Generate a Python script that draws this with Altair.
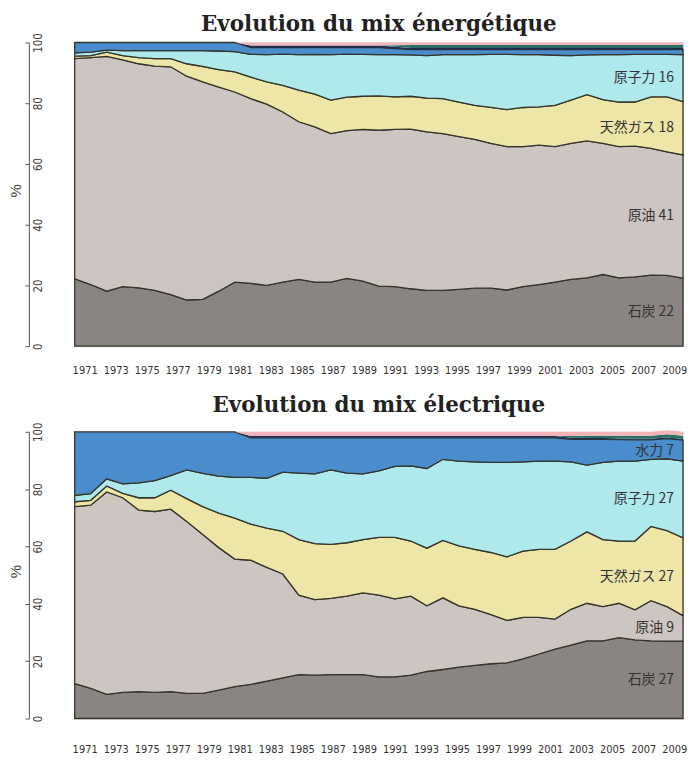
import altair as alt
import pandas as pd

years = list(range(1971, 2010))

names = ["石炭", "原油", "天然ガス", "原子力", "水力", "地熱", "新エネルギー", "その他"]
colors = ["#8a8582", "#cdc5c1", "#eee6a6", "#aee9ec", "#4a8dcd", "#1f2d52", "#2c6f66", "#f1b5b8"]

# ---- Primary energy mix (%), 1971-2009 ----
e_coal = [22.2, 20.3, 18.1, 19.6, 19.2, 18.4, 17.0, 15.2, 15.4, 18.1,
          21.1, 20.7, 20.0, 21.1, 22.0, 21.1, 21.1, 22.3, 21.4, 19.8,
          19.6, 18.9, 18.4, 18.4, 18.7, 19.1, 19.1, 18.5, 19.6, 20.3,
          21.1, 22.0, 22.5, 23.6, 22.5, 22.8, 23.4, 23.3, 22.4]
e_oil = [72.5, 74.7, 77.3, 74.7, 73.8, 73.8, 75.0, 73.7, 71.6, 67.2,
         62.6, 60.8, 59.7, 56.0, 51.9, 51.1, 48.9, 48.7, 50.0, 51.3,
         51.8, 52.6, 52.2, 51.6, 50.3, 49.0, 47.7, 47.2, 46.1, 45.9,
         44.6, 44.8, 45.1, 43.2, 43.2, 43.1, 41.7, 40.7, 40.6]
e_gas = [0.8, 0.7, 1.4, 1.4, 2.0, 2.5, 2.7, 4.1, 5.1, 5.8,
         6.6, 7.1, 7.3, 8.8, 10.4, 10.8, 11.0, 11.0, 10.9, 11.3,
         10.7, 10.8, 11.1, 11.5, 11.4, 11.2, 11.8, 12.2, 12.9, 12.6,
         13.6, 14.2, 15.2, 14.4, 14.7, 14.5, 17.0, 18.1, 17.5]
e_nuclear = [1.1, 1.1, 0.7, 1.6, 2.3, 2.6, 2.6, 4.3, 5.2, 6.1,
             6.7, 7.5, 9.0, 10.3, 11.7, 13.1, 15.0, 14.2, 13.8, 13.6,
             13.9, 13.6, 14.0, 14.5, 15.6, 16.7, 17.5, 18.2, 17.4, 17.2,
             16.5, 14.7, 13.1, 14.8, 15.6, 15.7, 14.0, 14.0, 15.5]
e_hydro = [3.4, 3.2, 2.5, 2.7, 2.7, 2.7, 2.7, 2.7, 2.7, 2.8,
           3.0, 2.2, 2.3, 2.1, 2.3, 2.2, 2.3, 2.1, 2.2, 2.3,
           2.0, 1.8, 2.0, 1.7, 1.7, 1.7, 1.6, 1.6, 1.7, 1.7,
           1.9, 2.0, 1.8, 1.7, 1.7, 1.6, 1.6, 1.6, 1.7]
e_geo = [0.0] * 11 + [0.7] * 9 + [0.6] + [0.5] * 18
e_new = [0.0] * 20 + [0.5] + [1.0] * 18
e_other = [0.0] * 11 + [1.0] * 9 + [0.9] + [0.8] * 18
e_labels = ["石炭 22", "原油 41", "天然ガス 18", "原子力 16"]

# ---- Electricity mix (%), 1971-2009 ----
p_coal = [12.2, 10.5, 8.4, 9.1, 9.4, 9.1, 9.4, 8.8, 8.8, 9.9,
          11.1, 11.9, 13.0, 14.2, 15.3, 15.1, 15.3, 15.3, 15.3, 14.5,
          14.5, 15.1, 16.4, 17.1, 17.9, 18.5, 19.1, 19.4, 20.8, 22.5,
          24.2, 25.6, 27.1, 27.1, 28.2, 27.4, 27.1, 27.0, 27.0]
p_oil = [61.7, 63.9, 70.6, 67.9, 63.3, 63.1, 63.6, 59.9, 55.4, 49.7,
         44.5, 43.3, 39.7, 36.2, 27.7, 26.4, 26.6, 27.4, 28.5, 28.5,
         27.2, 27.6, 22.9, 25.0, 21.4, 19.6, 17.1, 14.8, 14.5, 12.8,
         10.5, 12.5, 13.1, 11.9, 12.0, 10.5, 14.0, 12.0, 8.9]
p_gas = [1.7, 1.7, 2.1, 1.5, 4.3, 4.8, 6.6, 8.0, 9.7, 12.0,
         14.3, 12.6, 13.7, 14.9, 19.4, 19.5, 18.8, 18.6, 18.6, 20.2,
         21.5, 19.2, 20.1, 20.0, 20.9, 20.9, 21.7, 22.2, 23.1, 23.7,
         24.3, 23.8, 24.9, 23.4, 21.7, 24.0, 25.9, 26.5, 27.1]
p_nuclear = [2.2, 2.3, 2.5, 3.3, 5.2, 6.0, 5.1, 10.0, 11.6, 12.9,
             14.2, 16.3, 17.4, 20.6, 23.2, 24.3, 26.0, 24.3, 22.9, 23.2,
             24.7, 26.2, 27.8, 28.3, 29.6, 30.5, 31.4, 32.9, 31.1, 30.8,
             30.8, 27.6, 23.3, 26.9, 27.9, 27.9, 23.4, 25.1, 26.8]
p_hydro = [22.2, 21.6, 16.4, 18.2, 17.8, 17.0, 15.3, 13.3, 14.5, 15.5,
           15.9, 13.8, 14.1, 12.0, 12.3, 12.6, 11.2, 12.3, 12.6, 11.5,
           10.0, 9.8, 10.7, 7.5, 8.1, 8.4, 8.6, 8.6, 8.4, 8.1,
           8.1, 7.9, 9.0, 8.1, 7.5, 7.4, 6.8, 7.0, 7.3]
p_geo = [0.0] * 11 + [0.6] * 20 + [0.5] + [0.4] * 7
p_new = [0.0] * 31 + [0.6, 0.8, 0.8, 0.9, 1.0, 1.0, 1.1, 1.1]
p_other = [0.0] * 11 + [1.5] * 21 + [1.4] * 7
p_labels = ["石炭 27", "原油 9", "天然ガス 27", "原子力 27", "水力 7"]

tick_years = list(range(1971, 2010, 2))

NARROW = "DejaVu Sans Condensed, Liberation Sans, sans-serif"


def long_table(series):
    rows = []
    for k, vals in enumerate(series):
        for y, v in zip(years, vals):
            rows.append({"year": y, "source": names[k], "share": v, "order": k})
    return pd.DataFrame(rows)


def label_table(series, texts):
    rows = []
    base = 0.0
    for k, txt in enumerate(texts):
        v = series[k][-1]
        rows.append({"year": years[-1], "mid": base + v / 2, "text": txt})
        base += v
    return pd.DataFrame(rows)


def panel(series, texts, title, height, lab_pad, title_offset):
    df = long_table(series)
    lab = label_table(series, texts)
    xs = alt.Scale(domain=[1971, 2009], nice=False, zero=False)
    ys = alt.Scale(domain=[0, 100], nice=False)
    area = alt.Chart(df).mark_area(interpolate="linear", opacity=1).encode(
        x=alt.X("year:Q", scale=xs, axis=None),
        y=alt.Y("share:Q", stack="zero", scale=ys,
                axis=alt.Axis(values=[0, 20, 40, 60, 80, 100], offset=46, grid=False,
                              domainColor="#555", tickColor="#555", tickSize=4,
                              labelAngle=-90, labelAlign="center", labelBaseline="top",
                              labelPadding=-8, labelFont=NARROW,
                              labelFontSize=11.5, labelColor="#444",
                              title="%", titleAngle=-90, titleFont="Liberation Sans",
                              titleFontSize=15, titleFontWeight="normal", titleColor="#444",
                              titleX=-5, titleY=height / 2 - 4)),
        color=alt.Color("source:N", scale=alt.Scale(domain=names, range=colors), legend=None),
        order=alt.Order("order:Q"),
        stroke=alt.value("#34342a"),
        strokeWidth=alt.condition("datum.order <= 4", alt.value(1.3), alt.value(0)),
    )
    text = alt.Chart(lab).mark_text(
        align="right", baseline="middle", dx=-9, font="Noto Sans CJK JP",
        fontSize=14, color="#333"
    ).encode(
        x=alt.X("year:Q", scale=xs, axis=None),
        y=alt.Y("mid:Q", scale=ys),
        text="text:N",
    )
    ticks = alt.Chart(pd.DataFrame({"tick": tick_years})).mark_point(opacity=0).encode(
        x=alt.X("tick:Q", scale=alt.Scale(domain=[1970.36, 2009.57], nice=False, zero=False),
                axis=alt.Axis(values=tick_years, format="d", orient="bottom", domain=False,
                              ticks=False, grid=False, labelPadding=lab_pad, labelOverlap=False,
                              labelFont=NARROW, labelFontSize=11,
                              labelColor="#333", title=None)),
        y=alt.value(0),
    )
    return alt.layer(area, text, ticks).resolve_scale(x="independent").properties(
        width=611, height=height,
        title=alt.TitleParams(title, font="DejaVu Serif", fontSize=21.5, fontWeight="bold",
                              color="#222", anchor="middle", frame="group",
                              offset=title_offset),
    )


top = panel([e_coal, e_oil, e_gas, e_nuclear, e_hydro, e_geo, e_new, e_other],
            e_labels, "Evolution du mix énergétique", 305, 18, -3)
bottom = panel([p_coal, p_oil, p_gas, p_nuclear, p_hydro, p_geo, p_new, p_other],
               p_labels, "Evolution du mix électrique", 288, 25, 5)

chart = alt.vconcat(top, bottom, spacing=19).properties(
    padding={"left": 0, "top": 4, "right": 0, "bottom": 0}
).configure_view(stroke="#2a2a2a", strokeWidth=1.6).configure(background="white")

chart.save("out.html", embed_options={"renderer": "svg", "actions": False})
